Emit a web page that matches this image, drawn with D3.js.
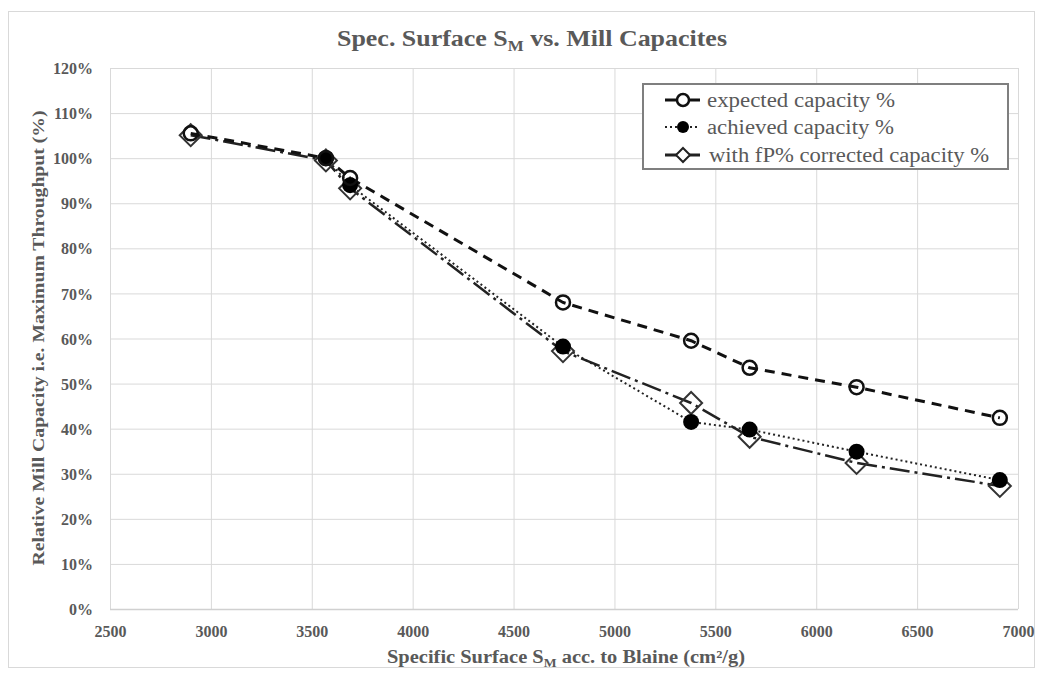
<!DOCTYPE html>
<html>
<head>
<meta charset="utf-8">
<script src="https://cdn.jsdelivr.net/npm/d3@7"></script>
<style>
  html, body { margin: 0; padding: 0; background: #fff; }
  svg text { font-family: "Liberation Serif", "Times New Roman", serif; }
</style>
</head>
<body>
<svg id="chart" width="1041" height="679"></svg>
<script>
// ---- data ----
const surfaceExpected = [2900, 3570, 3690, 4745, 5380, 5670, 6200, 6910];
const expectedCapacity = [1.055, 1.00, 0.956, 0.68, 0.595, 0.535, 0.492, 0.424];
const surfaceAchieved = [3570, 3690, 4745, 5380, 5670, 6200, 6910];
const achievedCapacity = [1.00, 0.94, 0.582, 0.415, 0.398, 0.349, 0.286];
const surfaceCorrected = [2900, 3570, 3690, 4745, 5380, 5670, 6200, 6910];
const correctedCapacity = [1.051, 0.995, 0.933, 0.572, 0.457, 0.382, 0.324, 0.273];
const xTicks = [2500, 3000, 3500, 4000, 4500, 5000, 5500, 6000, 6500, 7000];
const yTicks = [0, 0.1, 0.2, 0.3, 0.4, 0.5, 0.6, 0.7, 0.8, 0.9, 1.0, 1.1, 1.2];
const seriesNames = ["expected capacity %", "achieved capacity %", "with fP% corrected capacity %"];

const svg = d3.select("#chart");
const W = 1041, H = 679;
const txt = "#595959";
const grid = "#d9d9d9";

svg.append("rect").attr("x", 0).attr("y", 0).attr("width", W).attr("height", H).attr("fill", "#fff");
svg.append("rect").attr("x", 8.5).attr("y", 11.5).attr("width", 1026).attr("height", 656)
  .attr("fill", "none").attr("stroke", grid).attr("stroke-width", 1);

const x = d3.scaleLinear().domain([2500, 7000]).range([110, 1018]);
const y = d3.scaleLinear().domain([0, 1.2]).range([609, 68]);

// gridlines
const gy = svg.append("g")
  .attr("transform", `translate(${x(2500)},0)`)
  .call(d3.axisLeft(y).tickValues(yTicks).tickSize(-(x(7000) - x(2500))).tickFormat(""));
gy.select(".domain").remove();
gy.selectAll("line").attr("stroke", grid);

const gx = svg.append("g")
  .attr("transform", `translate(0,${y(0)})`)
  .call(d3.axisBottom(x).tickValues(xTicks).tickSize(-(y(0) - y(1.2))).tickFormat(""));
gx.select(".domain").remove();
gx.selectAll("line").attr("stroke", grid);

// axis line
svg.append("line").attr("x1", x(2500)).attr("x2", x(7000)).attr("y1", y(0) + 0.5).attr("y2", y(0) + 0.5)
  .attr("stroke", "#d0d0d0").attr("stroke-width", 1.5);

// tick labels
const yl = svg.append("g")
  .attr("transform", `translate(${x(2500) - 14},0)`)
  .call(d3.axisLeft(y).tickValues(yTicks).tickSize(0).tickFormat(d3.format(".0%")));
yl.select(".domain").remove();
yl.selectAll("text").attr("fill", txt).attr("font-size", 16).attr("font-weight", "bold")
  .attr("font-family", "Liberation Serif").attr("dy", "0.35em");

const xl = svg.append("g")
  .attr("transform", `translate(0,${y(0) + 14})`)
  .call(d3.axisBottom(x).tickValues(xTicks).tickSize(0).tickFormat(d3.format("d")));
xl.select(".domain").remove();
xl.selectAll("text").attr("fill", txt).attr("font-size", 16).attr("font-weight", "bold")
  .attr("font-family", "Liberation Serif");

// title
const title = svg.append("text").attr("x", 532).attr("y", 46).attr("text-anchor", "middle")
  .attr("fill", txt).attr("font-size", 23).attr("font-weight", "bold")
  .attr("textLength", 390).attr("lengthAdjust", "spacingAndGlyphs");
title.append("tspan").text("Spec. Surface S");
title.append("tspan").attr("font-size", 15).attr("dy", 5).text("M");
title.append("tspan").attr("dy", -5).text(" vs. Mill Capacites");

// x axis title
const xt = svg.append("text").attr("x", 566).attr("y", 663).attr("text-anchor", "middle")
  .attr("fill", txt).attr("font-size", 18).attr("font-weight", "bold")
  .attr("textLength", 358).attr("lengthAdjust", "spacingAndGlyphs");
xt.append("tspan").text("Specific Surface  S");
xt.append("tspan").attr("font-size", 12).attr("dy", 4).text("M");
xt.append("tspan").attr("dy", -4).text(" acc. to Blaine (cm²/g)");

// y axis title
svg.append("text").attr("transform", "translate(44,338) rotate(-90)").attr("text-anchor", "middle")
  .attr("fill", txt).attr("font-size", 17).attr("font-weight", "bold")
  .attr("textLength", 455).attr("lengthAdjust", "spacingAndGlyphs")
  .text("Relative Mill Capacity i.e. Maximum Throughput (%)");

// series
const line = d3.line().x(d => x(d[0])).y(d => y(d[1]));
const corrected = d3.zip(surfaceCorrected, correctedCapacity);
const achieved = d3.zip(surfaceAchieved, achievedCapacity);
const expected = d3.zip(surfaceExpected, expectedCapacity);

const diamond = s => `M0,${-s}L${s},0L0,${s}L${-s},0Z`;

svg.append("path").datum(corrected).attr("d", line).attr("fill", "none")
  .attr("stroke", "#222").attr("stroke-width", 2.5).attr("stroke-dasharray", "20,5,3,5");
svg.append("path").datum(achieved).attr("d", line).attr("fill", "none")
  .attr("stroke", "#222").attr("stroke-width", 2).attr("stroke-dasharray", "2,3");
svg.append("path").datum(expected).attr("d", line).attr("fill", "none")
  .attr("stroke", "#111").attr("stroke-width", 3).attr("stroke-dasharray", "10,7");

svg.append("g").selectAll("path").data(corrected).join("path")
  .attr("transform", d => `translate(${x(d[0])},${y(d[1])})`)
  .attr("d", diamond(11)).attr("fill", "none").attr("stroke", "#333").attr("stroke-width", 2);
svg.append("g").selectAll("circle").data(achieved).join("circle")
  .attr("cx", d => x(d[0])).attr("cy", d => y(d[1])).attr("r", 8).attr("fill", "#000");
svg.append("g").selectAll("circle").data(expected).join("circle")
  .attr("cx", d => x(d[0])).attr("cy", d => y(d[1])).attr("r", 7).attr("fill", "none")
  .attr("stroke", "#111").attr("stroke-width", 2.5);

// legend
const lg = svg.append("g");
lg.append("rect").attr("x", 643).attr("y", 84).attr("width", 365).attr("height", 85)
  .attr("fill", "#fff").attr("stroke", "#7f7f7f").attr("stroke-width", 2);
const rows = [100, 127, 155];
const lx0 = 665, lx1 = 700, lc = 683;
// expected
lg.append("line").attr("x1", lx0).attr("x2", lx1).attr("y1", rows[0]).attr("y2", rows[0])
  .attr("stroke", "#111").attr("stroke-width", 3);
lg.append("circle").attr("cx", lc).attr("cy", rows[0]).attr("r", 6).attr("fill", "#fff")
  .attr("stroke", "#111").attr("stroke-width", 2.5);
// achieved
lg.append("line").attr("x1", lx0).attr("x2", lx1).attr("y1", rows[1]).attr("y2", rows[1])
  .attr("stroke", "#222").attr("stroke-width", 2).attr("stroke-dasharray", "2,3");
lg.append("circle").attr("cx", lc).attr("cy", rows[1]).attr("r", 6).attr("fill", "#000");
// corrected
lg.append("line").attr("x1", lx0).attr("x2", lx1).attr("y1", rows[2]).attr("y2", rows[2])
  .attr("stroke", "#222").attr("stroke-width", 3);
lg.append("path").attr("transform", `translate(${lc},${rows[2]})`).attr("d", diamond(7))
  .attr("fill", "#fff").attr("stroke", "#222").attr("stroke-width", 2);
const legendWidths = [188, 187, 280];
const legendX = [707, 707, 709];
lg.selectAll("text.lab").data(seriesNames).join("text").attr("class", "lab")
  .attr("x", (d, i) => legendX[i]).attr("y", (d, i) => rows[i]).attr("dy", "0.35em")
  .attr("fill", txt).attr("font-size", 20)
  .attr("textLength", (d, i) => legendWidths[i]).attr("lengthAdjust", "spacingAndGlyphs")
  .text(d => d);
</script>
</body>
</html>
